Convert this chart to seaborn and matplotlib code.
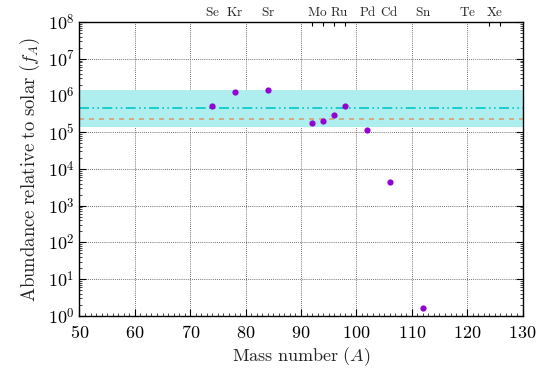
import numpy as np
import pandas as pd
import matplotlib
matplotlib.use("Agg")
import matplotlib.pyplot as plt
import seaborn as sns
from matplotlib.ticker import FixedLocator, MultipleLocator, LogLocator, NullFormatter, FuncFormatter

# ---- data ----
mass_numbers = [74, 78, 84, 92, 94, 96, 98, 102, 106, 112]
abundances = [5.1e5, 1.24e6, 1.43e6, 1.76e5, 2.03e5, 2.9e5, 5.2e5, 1.18e5, 4.35e3, 1.66]
band_low, band_high = 1.42e5, 1.43e6
mean_line = 4.5e5
median_line = 2.3e5
p_isotopes = [74, 78, 84, 92, 94, 96, 98, 102, 106, 112, 120, 124, 126]
element_names = ["Se", "Kr", "Sr", "Mo", "Ru", "Pd", "Cd", "Sn", "Te", "Xe"]
element_pos = [74, 78, 84, 93, 97, 102, 106, 112, 120, 125]
x_ticks = [50, 60, 70, 80, 90, 100, 110, 120, 130]
y_exps = [0, 1, 2, 3, 4, 5, 6, 7, 8]

sns.set_theme(style="ticks")
plt.rcParams["mathtext.fontset"] = "cm"
plt.rcParams["font.family"] = ["DejaVu Serif"]

df = pd.DataFrame({"A": mass_numbers, "f": abundances})

fig = plt.figure(figsize=(5.37, 3.71), dpi=100)
ax = fig.add_axes([0.148, 0.149, 0.825, 0.791])

ax.axhspan(band_low, band_high, color="#AFEEEE", zorder=1, lw=0)
ax.axhline(mean_line, color="#00C8C8", lw=1.2, ls=(0, (6, 2, 1, 2, 1, 2)), zorder=2)
ax.axhline(median_line, color="#D4A373", lw=1.2, ls=(0, (3, 3)), zorder=2)

sns.scatterplot(data=df, x="A", y="f", ax=ax, color="#9400D3", s=20,
                edgecolor="#9400D3", linewidth=0, zorder=5)

ax.set_yscale("log")
ax.set_xlim(50, 130)
ax.set_ylim(1, 1e8)

ax.xaxis.set_major_locator(FixedLocator(x_ticks))
ax.xaxis.set_minor_locator(MultipleLocator(1))
ax.xaxis.set_major_formatter(FuncFormatter(lambda v, p: r"$%d$" % v))
ax.yaxis.set_major_locator(FixedLocator([10.0 ** e for e in y_exps]))
ax.yaxis.set_minor_locator(LogLocator(base=10, subs=np.arange(2, 10), numticks=20))
ax.yaxis.set_minor_formatter(NullFormatter())
ax.yaxis.set_major_formatter(FuncFormatter(lambda v, p: r"$10^{%d}$" % int(round(np.log10(v)))))

ax.tick_params(axis="both", which="major", direction="in", length=5, width=0.8,
               labelsize=13, colors="black")
ax.tick_params(axis="both", which="minor", direction="in", length=2.5, width=0.6)
ax.tick_params(axis="y", which="both", right=True)
ax.tick_params(axis="x", which="both", top=False)
ax.tick_params(axis="x", which="major", pad=6)

ax.grid(True, which="major", color="#444444", ls=(0, (1, 1.5)), lw=0.6, zorder=0)

for s in ax.spines.values():
    s.set_color("black")
    s.set_linewidth(1.0)

ax.set_xlabel(r"$\mathrm{Mass\ number}\ (A)$", fontsize=13, labelpad=2)
ax.set_ylabel(r"$\mathrm{Abundance\ relative\ to\ solar}\ (f_A)$", fontsize=13.5, labelpad=4)

# top axis with element labels
top = ax.twiny()
top.set_xlim(ax.get_xlim())
top.xaxis.set_major_locator(FixedLocator(element_pos))
top.set_xticklabels([r"$\mathrm{%s}$" % n for n in element_names])
top.xaxis.set_minor_locator(FixedLocator(p_isotopes))
top.tick_params(axis="x", which="major", length=0, labelsize=9.5, pad=2)
top.tick_params(axis="x", which="minor", direction="in", length=3, width=0.8, color="black")
for s in top.spines.values():
    s.set_visible(False)

fig.savefig("out.png", dpi=100)
